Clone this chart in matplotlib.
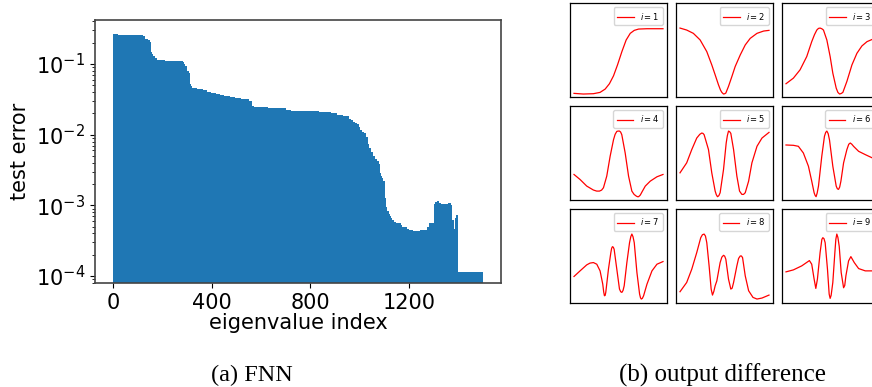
import matplotlib.pyplot as plt
import numpy as np

# ---- (a) FNN: test error vs eigenvalue index (step data) ----
edges = [0, 8, 19, 122, 130, 141, 149, 151, 154, 157, 162, 167, 177, 211, 283,
         286, 292, 299, 305, 311, 315, 321, 339, 364, 381, 397, 416, 434, 450,
         474, 495, 519, 546, 551, 562, 570, 627, 701, 720, 835, 886, 907, 931,
         958, 965, 974, 981, 988, 996, 1001, 1012, 1020, 1028, 1034, 1039, 1045,
         1055, 1063, 1071, 1078, 1085, 1089, 1093, 1097, 1103, 1107, 1112, 1118,
         1123, 1127, 1132, 1140, 1150, 1167, 1174, 1182, 1193, 1201, 1217, 1244,
         1265, 1274, 1282, 1302, 1308, 1316, 1325, 1331, 1338, 1351, 1361, 1372,
         1377, 1383, 1390, 1394, 1401, 1500]
errors = [0.262, 0.270, 0.257, 0.247, 0.226, 0.216, 0.207, 0.174, 0.149, 0.139,
          0.130, 0.120, 0.115, 0.111, 0.106, 0.100, 0.0937, 0.0804, 0.0738,
          0.0521, 0.0489, 0.0462, 0.0447, 0.0429, 0.0406, 0.0389, 0.0372, 0.0364,
          0.0356, 0.0344, 0.0333, 0.0320, 0.0315, 0.0299, 0.0257, 0.0246, 0.0238,
          0.0226, 0.0219, 0.0210, 0.0203, 0.0190, 0.0184, 0.0168, 0.0160, 0.0152,
          0.0146, 0.0140, 0.0128, 0.0118, 0.0110, 0.0106, 0.0094, 0.0074, 0.0065,
          0.0056, 0.0050, 0.0046, 0.0043, 0.0039, 0.0029, 0.0026, 0.00246, 0.0022,
          0.00127, 0.00095, 0.00082, 0.00076, 0.00071, 0.00066, 0.00062, 0.00059,
          0.00057, 0.00052, 0.00050, 0.00049, 0.00047, 0.00045, 0.000433,
          0.000443, 0.00045, 0.00049, 0.000557, 0.00103, 0.00110, 0.00115,
          0.00108, 0.00103, 0.00106, 0.00103, 0.00107, 0.00101, 0.00062, 0.00047,
          0.00066, 0.00072, 0.000115]
xticks = [0, 400, 800, 1200]

# ---- (b) output difference: 9 curves, normalized coords ----
curves = {
    1: ([0, .105, .218, .293, .35, .398, .444, .489, .538, .586, .632, .677, .726, .82, 1],
        [.01, 0, .005, .025, .075, .156, .276, .442, .643, .819, .92, .965, .985, .99, .99]),
    2: ([0, .075, .15, .226, .301, .357, .395, .432, .455, .47, .489, .503, .515, .545,
         .583, .62, .677, .733, .789, .865, .94, 1],
        [1, .97, .92, .82, .643, .442, .291, .141, .06, .025, 0, .005, .015, .116, .266,
         .417, .593, .744, .844, .92, .955, .965]),
    3: ([0, .083, .158, .233, .289, .32, .346, .365, .383, .402, .421, .459, .496, .526,
         .564, .583, .602, .62, .639, .684, .741, .797, .853, .91, .97, 1],
        [.156, .241, .367, .568, .794, .9, .97, .995, 1, .99, .97, .819, .568, .317, .09,
         .025, 0, .008, .025, .191, .442, .618, .729, .794, .829, .844]),
    4: ([0, .068, .143, .218, .255, .286, .31, .331, .368, .406, .444, .462, .481, .496,
         .511, .524, .537, .575, .613, .65, .675, .699, .713, .726, .745, .763, .801, .857,
         .932, 1],
        [.342, .266, .166, .106, .09, .09, .105, .141, .317, .618, .869, .95, .995, 1.0,
         1, .985, .945, .668, .317, .09, .04, .015, .005, .005, .03, .075, .166, .241,
         .307, .342]),
    5: ([0, .075, .132, .188, .222, .244, .258, .271, .32, .357, .395, .408, .421, .436,
         .451, .489, .519, .532, .545, .558, .571, .602, .639, .669, .695, .714, .733,
         .771, .808, .865, .921, 1],
        [.367, .518, .719, .894, .95, .97, .965, .945, .719, .367, .09, .035, .005, .02,
         .065, .417, .819, .93, 1, .99, .965, .719, .317, .09, .04, .04, .065, .241, .518,
         .769, .894, .98]),
    6: ([0, .083, .139, .195, .252, .289, .316, .327, .338, .35, .365, .402, .432, .446,
         .459, .474, .489, .526, .564, .577, .59, .603, .617, .647, .684, .705, .722, .74,
         .759, .816, .891, .97, 1],
        [.789, .784, .769, .668, .467, .241, .065, .025, .005, .06, .166, .618, .92, .98,
         1, .96, .864, .467, .166, .125, .116, .15, .241, .518, .719, .8, .819, .8, .769,
         .693, .643, .593, .58]),
    7: ([0, .068, .143, .18, .218, .256, .293, .323, .334, .342, .35, .357, .387, .414,
         .423, .432, .442, .451, .481, .511, .525, .538, .551, .564, .594, .624, .638, .65,
         .663, .677, .707, .737, .747, .756, .768, .782, .82, .876, .932, 1],
        [.357, .442, .533, .56, .568, .543, .442, .241, .12, .065, .07, .116, .467, .719,
         .785, .809, .8, .769, .467, .166, .125, .116, .145, .216, .568, .869, .96, 1,
         .96, .869, .417, .09, .035, .015, .025, .065, .241, .442, .543, .583]),
    8: ([0, .075, .132, .188, .233, .252, .271, .286, .301, .327, .35, .365, .38, .395,
         .414, .451, .47, .489, .502, .515, .545, .571, .586, .602, .639, .658, .677, .69,
         .703, .733, .771, .82, .865, .921, 1],
        [.126, .266, .467, .719, .945, .99, 1, .97, .869, .518, .166, .075, .13, .216,
         .291, .568, .65, .678, .665, .618, .317, .166, .18, .266, .518, .63, .668, .668,
         .643, .367, .141, .04, .015, .03, .075]),
    9: ([0, .083, .177, .263, .289, .316, .335, .353, .383, .403, .414, .427, .44, .466,
         .485, .496, .507, .526, .549, .56, .571, .583, .598, .62, .647, .66, .673, .703,
         .729, .767, .816, .891, 1],
        [.427, .457, .518, .598, .543, .317, .176, .317, .719, .92, .945, .93, .869, .467,
         .09, .025, .07, .266, .719, .92, 1, .95, .814, .417, .186, .22, .367, .593, .658,
         .568, .477, .442, .442]),
}

W, H = 872, 387
fig = plt.figure(figsize=(W / 100, H / 100), dpi=100)

ax = fig.add_axes([95 / W, 1 - 283 / H, (501 - 95) / W, (283 - 20) / H])
ax.stairs(errors, edges, fill=True, baseline=1e-6, color='#1f77b4')
ax.set_yscale('log')
ax.set_xlim(-75, 1575)
ax.set_ylim(7.96e-5, 0.42)
ax.set_xticks(xticks)
ax.tick_params(labelsize=15)
ax.set_xlabel('eigenvalue index', fontsize=15, labelpad=0)
ax.set_ylabel('test error', fontsize=15)
for s in ax.spines.values():
    s.set_color('#444444')
    s.set_linewidth(1.2)

# 3x3 grid of small panels (third column runs off the right edge)
cols = [570, 676, 782]
rows = [3, 106, 209]
for k in range(1, 10):
    r, c = divmod(k - 1, 3)
    a = fig.add_axes([cols[c] / W, 1 - (rows[r] + 94) / H, 97 / W, 94 / H])
    xs, ys = curves[k]
    a.plot(xs, ys, color='red', lw=0.9, label=f'$i={k}$')
    a.set_xlim(-0.045, 1.045)
    a.set_ylim(-0.045, 1.38)
    a.set_xticks([])
    a.set_yticks([])
    for s in a.spines.values():
        s.set_linewidth(0.9)
    a.legend(loc='upper right', fontsize=6, handlelength=2.0)

fig.text(252 / W, 1 - 375 / H, '(a) FNN', family='Liberation Serif',
         fontsize=17.5, ha='center', va='center')
fig.text(722 / W, 1 - 375 / H, '(b) output difference', family='Liberation Serif',
         fontsize=18, ha='center', va='center')

fig.savefig('out.png', dpi=100)
